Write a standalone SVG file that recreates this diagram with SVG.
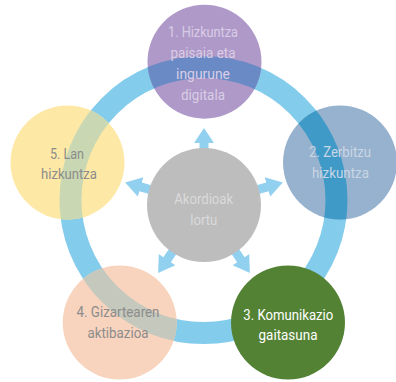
<svg xmlns="http://www.w3.org/2000/svg" xmlns:xlink="http://www.w3.org/1999/xlink" width="396" height="382" viewBox="0 0 396 382">
  <style>
    text { font-family: "Roboto", "Liberation Sans", sans-serif; font-size: 15.5px; text-anchor: middle; }
    .ring { fill: none; stroke-width: 22; }
    .arrow { fill: #92D0F0; }
  </style>
  <defs>
    <circle id="ringShape" cx="203.5" cy="200" r="133" class="ring"/>
    <path id="arrowUp" d="M -4.5,-50 L -4.5,-62 L -10,-62 L 0,-77 L 10,-62 L 4.5,-62 L 4.5,-50 Z"/>
    <path id="arrowLong" d="M -4.5,-50 L -4.5,-66 L -10,-66 L 0,-82 L 10,-66 L 4.5,-66 L 4.5,-50 Z"/>
    <clipPath id="clip1"><circle cx="204.5" cy="61.7" r="57"/></clipPath>
    <clipPath id="clip2"><circle cx="340" cy="162.5" r="57"/></clipPath>
    <clipPath id="clip4"><circle cx="119.7" cy="322.5" r="57"/></clipPath>
    <clipPath id="clip5"><circle cx="67.5" cy="162.5" r="57"/></clipPath>
  </defs>

  <g id="connectors">
    <use xlink:href="#ringShape" stroke="#83CCEC"/>
    <g class="arrow" transform="translate(204,205)">
      <use xlink:href="#arrowUp"/>
      <use xlink:href="#arrowLong" transform="rotate(74)"/>
      <use xlink:href="#arrowLong" transform="rotate(146)"/>
      <use xlink:href="#arrowLong" transform="rotate(-146)"/>
      <use xlink:href="#arrowLong" transform="rotate(-74)"/>
    </g>
  </g>

  <g id="node1">
    <circle cx="204.5" cy="61.7" r="57" fill="#AF99C8"/>
    <use xlink:href="#ringShape" stroke="#6A8AC6" clip-path="url(#clip1)"/>
    <g fill="#D9CDE6">
      <text x="203" y="37" textLength="70" lengthAdjust="spacingAndGlyphs">1. Hizkuntza</text>
      <text x="203" y="58" textLength="65" lengthAdjust="spacingAndGlyphs">paisaia eta</text>
      <text x="203" y="79" textLength="54" lengthAdjust="spacingAndGlyphs">ingurune</text>
      <text x="203" y="100" textLength="44" lengthAdjust="spacingAndGlyphs">digitala</text>
    </g>
  </g>

  <g id="node2">
    <circle cx="340" cy="162.5" r="57" fill="#97B2CE"/>
    <use xlink:href="#ringShape" stroke="#3F9AC8" clip-path="url(#clip2)"/>
    <g fill="#C9D6E5">
      <text x="340" y="157" textLength="62" lengthAdjust="spacingAndGlyphs">2. Zerbitzu</text>
      <text x="340.5" y="178" textLength="57" lengthAdjust="spacingAndGlyphs">hizkuntza</text>
    </g>
  </g>

  <g id="node3">
    <circle cx="288" cy="322.5" r="57" fill="#548235"/>
    <g fill="#FFFFFF">
      <text x="288.3" y="319.5" textLength="90" lengthAdjust="spacingAndGlyphs">3. Komunikazio</text>
      <text x="288" y="339.5" textLength="59" lengthAdjust="spacingAndGlyphs">gaitasuna</text>
    </g>
  </g>

  <g id="node4">
    <circle cx="119.7" cy="322.5" r="57" fill="#F8D4BE"/>
    <use xlink:href="#ringShape" stroke="#C5C8BD" clip-path="url(#clip4)"/>
    <g fill="#8C8C8C">
      <text x="118" y="317" textLength="83" lengthAdjust="spacingAndGlyphs">4. Gizartearen</text>
      <text x="118" y="337.5" textLength="61" lengthAdjust="spacingAndGlyphs">aktibazioa</text>
    </g>
  </g>

  <g id="node5">
    <circle cx="67.5" cy="162.5" r="57" fill="#FEE8A6"/>
    <use xlink:href="#ringShape" stroke="#C9D8B2" clip-path="url(#clip5)"/>
    <g fill="#8C8C8C">
      <text x="67" y="158.5" textLength="34" lengthAdjust="spacingAndGlyphs">5. Lan</text>
      <text x="69" y="179" textLength="56" lengthAdjust="spacingAndGlyphs">hizkuntza</text>
    </g>
  </g>

  <g id="center">
    <circle cx="204" cy="205" r="57" fill="#BDBDBD"/>
    <g fill="#DADADA">
      <text x="203.7" y="204" textLength="59" lengthAdjust="spacingAndGlyphs">Akordioak</text>
      <text x="203.7" y="225" textLength="27" lengthAdjust="spacingAndGlyphs">lortu</text>
    </g>
  </g>
</svg>
